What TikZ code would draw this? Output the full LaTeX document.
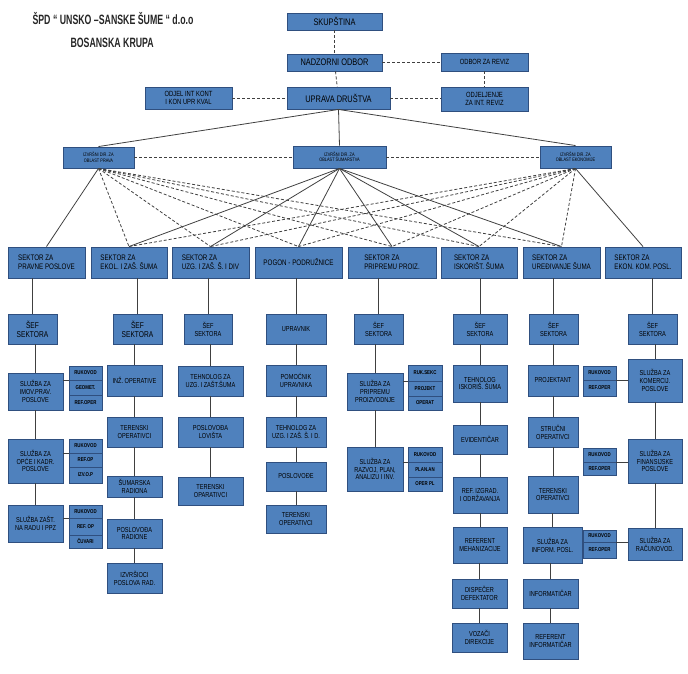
\documentclass[tikz,border=0pt]{standalone}
\usepackage{fontspec}
\usepackage{tikz}
\setmainfont{Liberation Sans}
\newfontfamily\narrow[FakeStretch=0.78]{Liberation Sans}
\newfontfamily\titlefont[FakeStretch=0.65]{Liberation Sans}
\definecolor{boxfill}{HTML}{4F81BD}
\definecolor{boxline}{HTML}{2F4F7F}
\definecolor{linegray}{HTML}{404040}
\tikzset{
  box/.style={draw=boxline, fill=boxfill, line width=0.9pt, inner sep=0.5pt, align=center, text=black,
    font=\narrow\fontsize{7.2}{7.8}\selectfont},
  top/.style={box, font=\narrow\fontsize{9.5}{10}\selectfont},
  mid/.style={box, font=\narrow\fontsize{7.5}{7.8}\selectfont},
  dir/.style={box, font=\narrow\fontsize{5}{5.6}\selectfont},
  sek/.style={box, align=left, font=\narrow\fontsize{8}{8.6}\selectfont},
  sef/.style={box, font=\narrow\fontsize{8.5}{9.2}\selectfont},
  sub/.style={box, line width=0.7pt, font=\narrow\bfseries\fontsize{5.6}{6}\selectfont},
  link/.style={draw=linegray, line width=0.8pt},
  dlink/.style={link, dash pattern=on 3pt off 2pt},
  title/.style={anchor=west, font=\titlefont\bfseries\fontsize{13.5}{14}\selectfont, text=black!85}
}
% box from corners (x1,y1)-(x2,y2) in pixels
\newcommand\bx[7]{\node[#1, minimum width={(#5-#3)*1pt}, minimum height={(#6-#4)*1pt}] (#2) at ({(#3+#5)/2},{(#4+#6)/2}) {#7};}

\begin{document}
\begin{tikzpicture}[x=1pt, y=-1pt]
  \useasboundingbox (0,0) rectangle (688,674);
  \node[title] (firma) at (29,19) {ŠPD “ UNSKO –SANSKE ŠUME “ d.o.o};
  \node[title] (mjesto) at (67,43) {BOSANSKA KRUPA};

  % uprava
  \bx{top}{skup}{287}{13}{382}{30}{SKUPŠTINA}
  \bx{top}{nadzor}{287}{54}{382}{71}{NADZORNI ODBOR}
  \bx{mid}{reviz}{441}{53}{528}{71}{ODBOR ZA REVIZ}
  \bx{top}{uprava}{287}{87}{390}{109}{UPRAVA DRUŠTVA}
  \bx{mid}{intrev}{441}{87}{528}{111}{ODJELJENJE\\ZA INT. REVIZ}
  \bx{mid}{intkon}{145}{87}{232}{109}{ODJEL INT KONT\\I KON UPR KVAL}

  \bx{dir}{pravo}{63}{147}{134}{168}{IZVRŠNI DIR. ZA\\OBLAST PRAVA}
  \bx{dir}{sumar}{293}{146}{386}{168}{IZVRŠNI DIR. ZA\\OBLAST ŠUMARSTVA}
  \bx{dir}{ekon}{540}{146}{611}{168}{IZVRŠNI DIR. ZA\\OBLAST EKONOMIJE}

  % sektori
  \bx{sek}{s1}{8}{247}{85}{278}{SEKTOR ZA\\PRAVNE POSLOVE}
  \bx{sek}{s2}{91}{247}{167}{278}{SEKTOR ZA\\EKOL. I ZAŠ. ŠUMA}
  \bx{sek}{s3}{172}{247}{249}{278}{SEKTOR ZA\\UZG. I ZAŠ. Š. I DIV}
  \bx{sek}{s4}{255}{247}{342}{278}{POGON - PODRUŽNICE}
  \bx{sek}{s5}{348}{247}{436}{278}{SEKTOR ZA\\PRIPREMU PROIZ.}
  \bx{sek}{s6}{441}{247}{517}{278}{SEKTOR ZA\\ISKORIŠT. ŠUMA}
  \bx{sek}{s7}{523}{247}{600}{278}{SEKTOR ZA\\UREĐIVANJE ŠUMA}
  \bx{sek}{s8}{605}{247}{681}{278}{SEKTOR ZA\\EKON. KOM. POSL.}

  % pravni
  \bx{sef}{sef1}{8}{314}{57}{344}{ŠEF\\SEKTORA}
  \bx{box}{imov}{8}{373}{63}{410}{SLUŽBA ZA\\IMOV.PRAV.\\POSLOVE}
  \bx{box}{opce}{8}{439}{63}{483}{SLUŽBA ZA\\OPĆE I KADR.\\POSLOVE}
  \bx{box}{zast}{8}{505}{63}{542}{SLUŽBA ZAŠT.\\NA RADU I PPZ}
  \bx{sub}{ruk1}{69}{366}{102}{380}{RUKOVOD}
  \bx{sub}{geo1}{69}{380}{102}{395}{GEOMET.}
  \bx{sub}{ref1}{69}{395}{102}{410}{REF.OPER}
  \bx{sub}{ruk2}{69}{439}{102}{453}{RUKOVOD}
  \bx{sub}{ref2}{69}{453}{102}{467}{REF.OP}
  \bx{sub}{izv2}{69}{467}{102}{483}{IZV.O.P}
  \bx{sub}{ruk3}{69}{505}{102}{518}{RUKOVOD}
  \bx{sub}{ref3}{69}{518}{102}{535}{REF. OP}
  \bx{sub}{cuv3}{69}{535}{102}{548}{ČUVARI}

  % ekologija
  \bx{sef}{sef2}{113}{314}{162}{344}{ŠEF\\SEKTORA}
  \bx{box}{inz}{107}{365}{162}{396}{INŽ. OPERATIVE}
  \bx{box}{ter2}{107}{417}{162}{447}{TERENSKI\\OPERATIVCI}
  \bx{box}{rad}{107}{476}{162}{497}{ŠUMARSKA\\RADIONA}
  \bx{box}{posrad}{107}{519}{162}{548}{POSLOVOĐA\\RADIONE}
  \bx{box}{izvr}{107}{563}{162}{593}{IZVRŠIOCI\\POSLOVA RAD.}

  % uzgoj
  \bx{box}{sef3}{184}{314}{232}{344}{ŠEF\\SEKTORA}
  \bx{box}{teh3}{178}{366}{243}{396}{TEHNOLOG ZA\\UZG. I ZAŠT.ŠUMA}
  \bx{box}{lov}{178}{417}{243}{447}{POSLOVOĐA\\LOVIŠTA}
  \bx{box}{ter3}{178}{477}{243}{505}{TERENSKI\\OPARATIVCI}

  % pogon
  \bx{box}{upr}{266}{314}{326}{344}{UPRAVNIK}
  \bx{box}{pom}{266}{365}{326}{396}{POMOĆNIK\\UPRAVNIKA}
  \bx{box}{teh4}{266}{417}{326}{447}{TEHNOLOG ZA\\UZG. I ZAŠ. Š. I D.}
  \bx{box}{posl}{266}{462}{326}{491}{POSLOVOĐE}
  \bx{box}{ter4}{266}{505}{326}{533}{TERENSKI\\OPERATIVCI}

  % priprema
  \bx{box}{sef5}{354}{314}{403}{344}{ŠEF\\SEKTORA}
  \bx{box}{prip}{347}{373}{403}{410}{SLUŽBA ZA\\PRIPREMU\\PROIZVODNJE}
  \bx{box}{razv}{347}{447}{403}{491}{SLUŽBA ZA\\RAZVOJ, PLAN,\\ANALIZU I INV.}
  \bx{sub}{rsek}{408}{365}{442}{381}{RUK.SEKC}
  \bx{sub}{proj}{408}{381}{442}{396}{PROJEKT}
  \bx{sub}{oper}{408}{396}{442}{410}{OPERAT}
  \bx{sub}{ruk5}{408}{447}{442}{462}{RUKOVOD}
  \bx{sub}{plan}{408}{462}{442}{477}{PLAN.AN}
  \bx{sub}{operpl}{408}{477}{442}{491}{OPER PL}

  % iskoristavanje
  \bx{box}{sef6}{453}{314}{507}{344}{ŠEF\\SEKTORA}
  \bx{box}{teh6}{453}{365}{507}{402}{TEHNOLOG\\ISKORIŠ. ŠUMA}
  \bx{box}{evid}{453}{425}{507}{454}{EVIDENTIČAR}
  \bx{box}{refiz}{453}{477}{507}{513}{REF. IZGRAD.\\I ODRŽAVANJA}
  \bx{box}{meh}{453}{527}{507}{563}{REFERENT\\MEHANIZACIJE}
  \bx{box}{disp}{452}{579}{507}{608}{DISPEČER\\DEFEKTATOR}
  \bx{box}{voz}{452}{623}{507}{652}{VOZAČI\\DIREKCIJE}

  % uredjivanje
  \bx{box}{sef7}{529}{314}{578}{344}{ŠEF\\SEKTORA}
  \bx{box}{projk}{528}{365}{578}{396}{PROJEKTANT}
  \bx{box}{struc}{528}{417}{578}{447}{STRUČNI\\OPERATIVCI}
  \bx{box}{ter7}{528}{476}{578}{513}{TERENSKI\\OPERATIVCI}
  \bx{box}{inform}{523}{527}{582}{563}{SLUŽBA ZA\\INFORM. POSL.}
  \bx{box}{infor}{523}{579}{578}{608}{INFORMATIČAR}
  \bx{box}{refinf}{523}{623}{578}{659}{REFERENT\\INFORMATIČAR}

  % ekonomija
  \bx{box}{sef8}{628}{314}{677}{344}{ŠEF\\SEKTORA}
  \bx{box}{kom}{628}{359}{682}{402}{SLUŽBA ZA\\KOMERCIJ.\\POSLOVE}
  \bx{box}{fin}{628}{439}{682}{483}{SLUŽBA ZA\\FINANSIJSKE\\POSLOVE}
  \bx{box}{racun}{628}{528}{682}{560}{SLUŽBA ZA\\RAČUNOVOD.}
  \bx{sub}{ruk8a}{583}{366}{616}{380}{RUKOVOD}
  \bx{sub}{ref8a}{583}{380}{616}{396}{REF.OPER}
  \bx{sub}{ruk8b}{583}{448}{616}{462}{RUKOVOD}
  \bx{sub}{ref8b}{583}{462}{616}{475}{REF.OPER}
  \bx{sub}{ruk8c}{583}{530}{616}{542}{RUKOVOD}
  \bx{sub}{ref8c}{583}{542}{616}{558}{REF.OPER}

  % veze
  \draw[dlink] (skup) -- (nadzor);
  \draw[dlink] (nadzor) -- (uprava);
  \draw[dlink] (nadzor.east) -- (reviz.west |- nadzor.east);
  \draw[dlink] (reviz) -- (intrev);
  \draw[dlink] (uprava.east) -- (intrev.west |- uprava.east);
  \draw[dlink] (intkon.east) -- (uprava.west |- intkon.east);
  \draw[dlink] (pravo.east) -- (sumar.west |- pravo.east);
  \draw[dlink] (sumar.east) -- (ekon.west |- sumar.east);
  \foreach \d in {pravo,sumar,ekon}
    \draw[link] (uprava.south) -- (\d.north);
  \draw[link] (pravo.south) -- (s1.north);
  \draw[link] (ekon.south) -- (s8.north);
  \foreach \s in {s2,s3,s4,s5,s6,s7} {
    \draw[dlink] (pravo.south) -- (\s.north);
    \draw[dlink] (ekon.south) -- (\s.north);
    \draw[link] (sumar.south) -- (\s.north);
  }
  \foreach \a/\b in {s1/sef1, sef1/imov, imov/opce, opce/zast,
      s2/sef2, sef2/inz, inz/ter2, ter2/rad, rad/posrad, posrad/izvr,
      s3/sef3, sef3/teh3, teh3/lov, lov/ter3,
      s4/upr, upr/pom, pom/teh4, teh4/posl, posl/ter4,
      s5/sef5, sef5/prip, prip/razv,
      s6/sef6, sef6/teh6, teh6/evid, evid/refiz, refiz/meh, meh/disp, disp/voz,
      s7/sef7, sef7/projk, projk/struc, struc/ter7, ter7/inform, inform/infor, infor/refinf,
      s8/sef8, sef8/kom, kom/fin, fin/racun}
    \draw[link] (\a.south -| \b.north) -- (\b.north);
  \foreach \a/\b in {imov/ruk1, opce/ruk2, zast/ruk3, prip/rsek, razv/ruk5}
    \draw[link] (\a.east |- \b.south) -- (\b.south west);
  \foreach \a/\b in {kom/ruk8a, fin/ruk8b, racun/ruk8c}
    \draw[link] (\a.west |- \b.south) -- (\b.south east);
\end{tikzpicture}
\end{document}
